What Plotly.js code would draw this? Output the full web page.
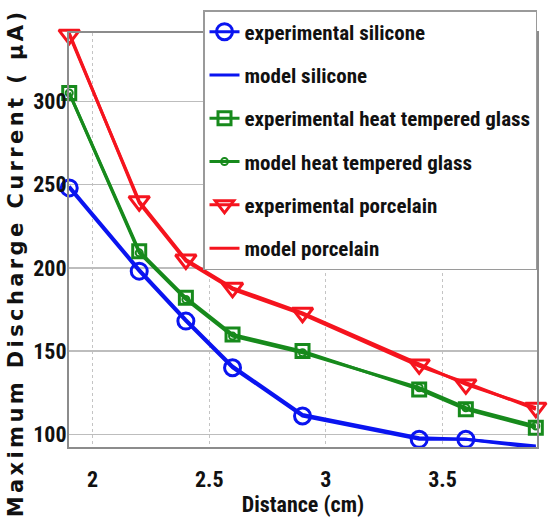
<!DOCTYPE html>
<html>
<head>
<meta charset="utf-8">
<script src="https://cdn.plot.ly/plotly-3.0.1.min.js"></script>
<style>
  html, body { margin: 0; padding: 0; background: #ffffff; }
  #chart { width: 549px; height: 528px; }
  /* the rotated y-axis caption is set in a wide, letter-spaced face */
  .annotation-text { letter-spacing: 3.4px; }
</style>
</head>
<body>
<div id="chart"></div>
<script>
// Gap distance between electrodes (cm)
const distance = [1.9, 2.2, 2.4, 2.6, 2.9, 3.4, 3.6, 3.9];

// Maximum discharge current (uA) per insulator material
const expSilicone     = [248, 198, 168, 140, 111, 97, 97, 92];
const modelSilicone   = [249, 199, 169, 141, 112, 98, 97, 93];
const expGlass        = [305, 210, 182, 160, 150, 127, 115, 104];
const modelGlass      = [305, 209, 181, 159, 149, 128, 116, 105];
const expPorcelain    = [340, 240, 205, 188, 173, 142, 130, 116];
const modelPorcelain  = [341, 239, 204, 187, 172, 141, 131, 115];

const xTicks = [2, 2.5, 3, 3.5];
const xTickText = ['2', '2.5', '3', '3.5'];
const yTicks = [100, 150, 200, 250, 300];
const yTickText = ['100', '150', '200', '250', '300'];

const BLUE = '#0a14f0';
const GREEN = '#178a1c';
const RED = '#f5141e';
const narrow = '"Roboto Condensed", "Open Sans Condensed", sans-serif';

function series(name, y, color, group, marker, lineWidth) {
  const t = {
    type: 'scatter',
    x: distance,
    y: y,
    name: name,
    legendgroup: group,
    cliponaxis: false,
    line: { color: color, width: lineWidth },
    mode: marker ? 'lines+markers' : 'lines'
  };
  if (marker) t.marker = marker;
  return t;
}

const traces = [
  series('experimental silicone', expSilicone, BLUE, 'g1',
    { symbol: 'circle-open', size: 16, color: BLUE, line: { width: 3, color: BLUE } }, 3),
  series('model silicone', modelSilicone, BLUE, 'g2', null, 3),
  series('experimental heat tempered glass', expGlass, GREEN, 'g3',
    { symbol: 'square-open', size: 13, color: GREEN, line: { width: 3, color: GREEN } }, 3),
  series('model heat tempered glass', modelGlass, GREEN, 'g4',
    { symbol: 'circle-open', size: 7, color: GREEN, line: { width: 2, color: GREEN } }, 3),
  series('experimental porcelain', expPorcelain, RED, 'g5',
    { symbol: 'triangle-down-open', size: 18, color: RED, line: { width: 3, color: RED } }, 3),
  series('model porcelain', modelPorcelain, RED, 'g6', null, 3)
];

const labelFont = { family: narrow, size: 22, color: '#111111', weight: 'bold' };

const layout = {
  width: 549,
  height: 528,
  margin: { l: 69, r: 12, t: 33, b: 81, autoexpand: false },
  paper_bgcolor: '#ffffff',
  plot_bgcolor: '#ffffff',
  showlegend: true,
  font: labelFont,
  xaxis: {
    range: [1.899, 3.905],
    tickvals: xTicks,
    ticktext: xTickText,
    ticks: '',
    ticklabelstandoff: 12,
    showline: true,
    mirror: true,
    linecolor: '#8c8c8c',
    linewidth: 2,
    showgrid: true,
    gridcolor: '#c4c4c4',
    griddash: 'dot',
    gridwidth: 1,
    zeroline: false,
    automargin: false,
    tickfont: labelFont,
    title: { text: 'Distance (cm)', font: labelFont, standoff: 3 }
  },
  yaxis: {
    range: [92.4, 341],
    tickvals: yTicks,
    ticktext: yTickText,
    ticks: '',
    ticklabelstandoff: -4,
    showline: true,
    mirror: true,
    linecolor: '#8c8c8c',
    linewidth: 2,
    showgrid: true,
    gridcolor: '#bdbdbd',
    gridwidth: 1.5,
    zeroline: false,
    automargin: false,
    tickfont: labelFont
  },
  legend: {
    x: 1,
    xanchor: 'right',
    y: 1.0555,
    yanchor: 'top',
    bgcolor: '#ffffff',
    bordercolor: '#9a9a9a',
    borderwidth: 1.5,
    tracegroupgap: 13,
    itemwidth: 30,
    font: { family: narrow, size: 21, color: '#111111', weight: 'bold' }
  },
  annotations: [{
    text: 'Maximum Discharge Current ( \u03bcA)',
    xref: 'paper',
    yref: 'paper',
    x: -0.113,
    y: 0.444,
    xanchor: 'center',
    yanchor: 'middle',
    textangle: -90,
    showarrow: false,
    font: { family: '"DejaVu Sans", sans-serif', size: 21, color: '#111111', weight: 'bold' }
  }]
};

Plotly.newPlot('chart', traces, layout, { staticPlot: true, displayModeBar: false });
</script>
</body>
</html>
